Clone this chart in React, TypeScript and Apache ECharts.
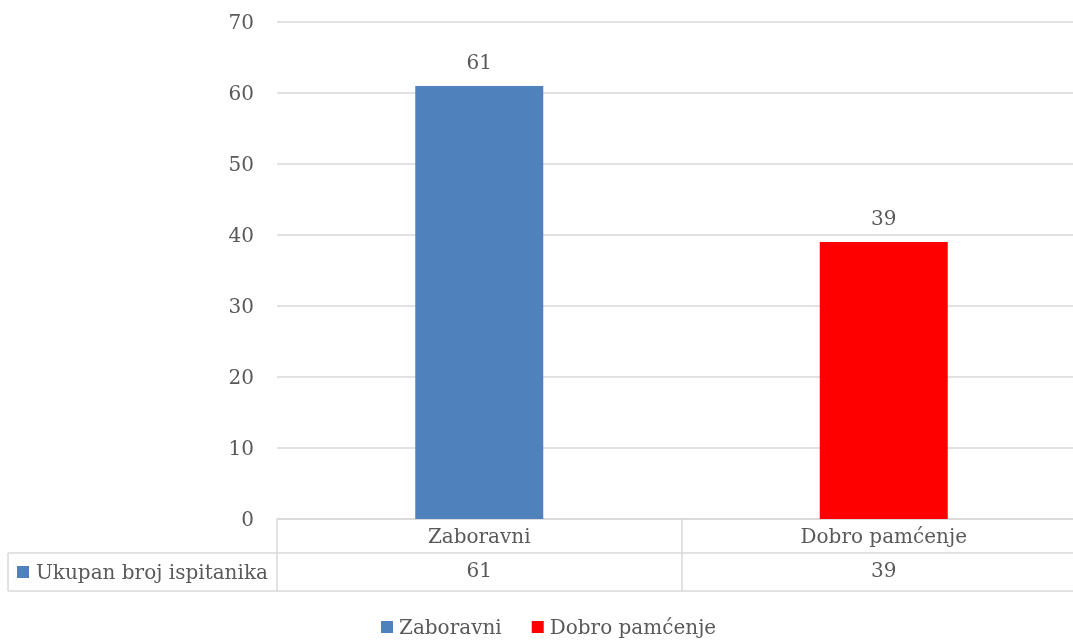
import React, { useEffect, useRef } from "react";
import * as echarts from "echarts";

const categories = ["Zaboravni", "Dobro pamćenje"];
const seriesNames = ["Zaboravni", "Dobro pamćenje"];
const values = [61, 39];
const colors = ["#4F81BD", "#FF0000"];
const tableRowLabel = "Ukupan broj ispitanika";
const yTicks = { min: 0, max: 70, interval: 10 };

const FONT = "DejaVu Serif";
const FS = 20;
const TXT = "#595959";
const LINE = "#d9d9d9";

export default function App() {
  const ref = useRef<HTMLDivElement>(null);
  useEffect(() => {
    const chart = echarts.init(ref.current!, null, { renderer: "svg" });
    const left = 277;
    const top = 22;
    const bottom0 = 519;
    chart.setOption({
      animation: false,
      textStyle: { fontFamily: FONT },
      grid: { left, top, right: 4, bottom: 642 - bottom0, containLabel: false },
      legend: {
        top: 612,
        left: 376,
        data: seriesNames,
        icon: "rect",
        itemWidth: 12,
        itemHeight: 12,
        itemGap: 30,
        textStyle: { fontFamily: FONT, fontSize: FS, color: TXT, padding: [0, 0, 0, 1] },
      },
      xAxis: [
        {
          type: "category",
          data: categories,
          boundaryGap: true,
          axisLine: { show: true, lineStyle: { color: LINE, width: 1.5 } },
          axisTick: { show: true, length: 72, lineStyle: { color: LINE, width: 1.5 } },
          axisLabel: { margin: 7, fontFamily: FONT, fontSize: FS, color: TXT },
        },
        {
          type: "category",
          position: "bottom",
          offset: 34,
          data: values.map(String),
          axisLine: { show: false },
          axisTick: { show: false },
          axisLabel: { margin: 7, fontFamily: FONT, fontSize: FS, color: TXT },
        },
      ],
      yAxis: {
        type: "value",
        min: yTicks.min,
        max: yTicks.max,
        interval: yTicks.interval,
        axisLine: { show: false },
        axisTick: { show: false },
        splitLine: { lineStyle: { color: LINE, width: 1.5 } },
        axisLabel: { margin: 23, fontFamily: FONT, fontSize: FS, color: TXT },
      },
      series: seriesNames.map((name, i) => ({
        name,
        type: "bar",
        stack: "s",
        barWidth: 128,
        itemStyle: { color: colors[i] },
        data: values.map((v, j) => (j === i ? v : "-")),
        label: {
          show: true,
          position: "top",
          distance: 14,
          fontFamily: FONT,
          fontSize: FS,
          color: TXT,
        },
      })),
      graphic: [
        { type: "line", shape: { x1: 8, y1: 553, x2: 1090, y2: 553 }, style: { stroke: LINE, lineWidth: 1.5 } },
        { type: "line", shape: { x1: 8, y1: 591, x2: 1090, y2: 591 }, style: { stroke: LINE, lineWidth: 1.5 } },
        { type: "line", shape: { x1: 8, y1: 553, x2: 8, y2: 591 }, style: { stroke: LINE, lineWidth: 1.5 } },
        { type: "rect", shape: { x: 17, y: 566, width: 12, height: 12 }, style: { fill: colors[0] } },
        {
          type: "text",
          x: 36,
          y: 572,
          style: { text: tableRowLabel, font: `${FS}px '${FONT}'`, fill: TXT, verticalAlign: "middle" },
        },
      ],
    });
    return () => chart.dispose();
  }, []);
  return <div ref={ref} style={{ position: "fixed", left: 0, top: 0, width: 1090, height: 642 }} />;
}
